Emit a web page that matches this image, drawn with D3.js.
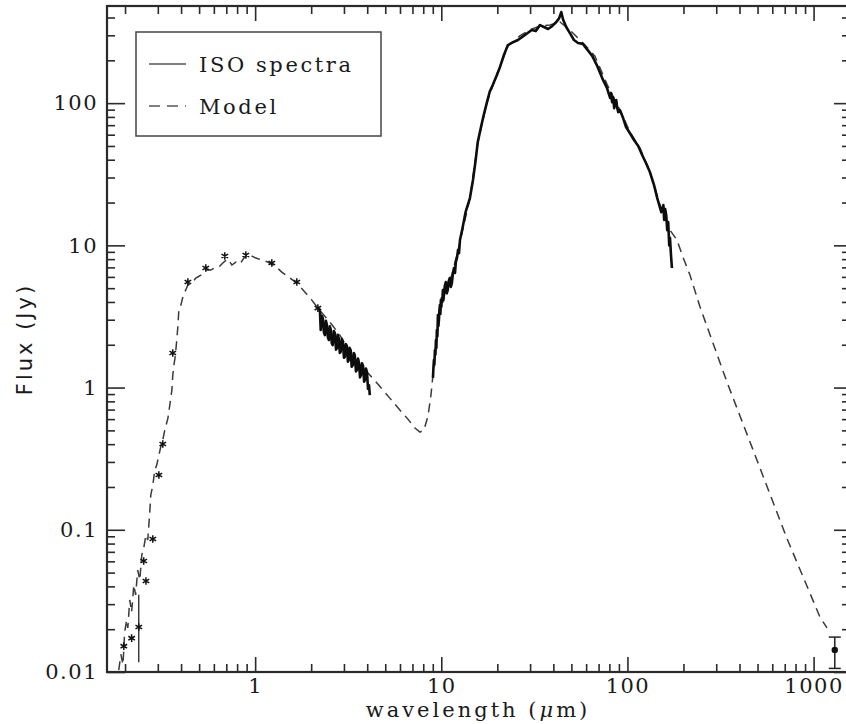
<!DOCTYPE html>
<html>
<head>
<meta charset="utf-8">
<script src="https://cdn.jsdelivr.net/npm/d3@7"></script>
<style>
  html, body { margin: 0; padding: 0; background: #fff; }
  svg { display: block; }
</style>
</head>
<body>
<div id="chart"></div>
<script>
// ---------------- DATA ----------------
// Model SED (dashed)
const modelWave = [0.185,0.190,0.195,0.199,0.204,0.207,0.212,0.217,0.223,0.228,0.234,0.240,0.246,0.252,0.259,0.265,0.272,0.275,0.282,0.289,0.296,0.304,0.311,0.319,0.327,0.340,0.348,0.357,0.361,0.366,0.371,0.375,0.380,0.385,0.389,0.399,0.409,0.419,0.435,0.457,0.480,0.511,0.543,0.578,0.615,0.646,0.679,0.713,0.750,0.788,0.828,0.870,0.914,0.960,1.009,1.086,1.17,1.28,1.391,1.536,1.674,1.848,2.017,2.173,2.519,2.851,3.226,3.65,4.13,4.56,5.29,5.99,6.62,7.22,7.68,8.07,8.48,8.80,9.02,9.24,9.47,9.83,10.45,11.4,12.59,14.25,15.73,17.59,19.9,22.8,26.4,29.9,33.9,38.4,43.4,49.1,59.1,66.9,77.6,91.2,103.2,116.8,132.1,149.6,169.3,184.5,198.7,216.7,245.3,342,496,719,1083,1181];
const modelFlux = [0.0103,0.0133,0.0113,0.0190,0.0232,0.0204,0.0321,0.0264,0.0409,0.0348,0.0521,0.0443,0.0664,0.0744,0.0918,0.0847,0.138,0.175,0.206,0.263,0.285,0.335,0.382,0.428,0.502,0.610,0.754,0.960,1.224,1.44,1.61,1.83,2.23,2.75,3.51,3.80,4.33,4.70,5.26,5.43,5.89,6.18,6.70,6.70,7.03,7.15,7.63,8.01,7.27,7.63,7.39,8.14,8.69,8.41,8.14,7.88,7.63,7.15,6.49,5.89,5.43,4.70,4.12,3.62,2.89,2.34,1.79,1.45,1.224,1.059,0.843,0.695,0.600,0.519,0.486,0.502,0.630,0.885,1.224,1.69,2.34,3.51,4.85,6.18,10.55,21.5,53.2,101.6,160,252,297,327,349,354,372,327,256,214,136,89.3,62.6,48.3,32.8,19.2,12.8,10.9,8.27,6.20,3.70,1.10,0.310,0.087,0.0243,0.0204];

// ISO spectra (solid) : near-IR segment
const isoNirWave = [2.20,2.23,2.25,2.28,2.31,2.34,2.37,2.40,2.43,2.46,2.49,2.52,2.55,2.58,2.61,2.65,2.68,2.72,2.75,2.78,2.81,2.85,2.88,2.92,2.96,3.00,3.03,3.07,3.11,3.15,3.18,3.22,3.26,3.30,3.35,3.39,3.43,3.48,3.52,3.57,3.61,3.66,3.70,3.75,3.80,3.85,3.89,3.94,3.99,4.04,4.09,4.13];
const isoNirFlux = [3.60,3.40,2.54,3.20,3.08,2.45,2.34,2.95,2.75,2.25,2.16,2.70,2.54,2.05,1.99,2.50,2.42,1.85,1.90,2.35,2.23,1.75,1.78,2.20,2.09,1.62,1.64,2.02,1.96,1.52,1.56,1.90,1.83,1.40,1.44,1.75,1.69,1.30,1.33,1.60,1.50,1.18,1.22,1.48,1.42,1.10,1.13,1.36,1.28,0.98,1.04,0.885];

// ISO spectra (solid) : mid/far-IR segment
const isoFirWave = [9.02,9.08,9.13,9.18,9.24,9.30,9.36,9.41,9.47,9.53,9.59,9.65,9.71,9.77,9.83,9.89,9.95,10.01,10.07,10.13,10.2,10.26,10.33,10.45,10.58,10.70,10.83,10.96,11.1,11.25,11.4,11.55,11.7,11.85,11.97,12.15,12.3,12.45,12.6,13.0,13.5,14.25,14.8,15.3,15.7,16.3,16.9,17.6,18.2,18.9,19.9,20.6,21.7,22.8,23.9,25.8,27.7,29.1,30.6,32.2,33.9,35.6,37.5,39.5,41.5,43.0,44.1,45.2,46.9,49.1,51.6,54.3,57.6,61.2,64.8,68.9,73.2,77.6,80.7,81.7,82.7,83.8,84.9,86.0,87.1,88.2,89.3,91.2,94.8,98.3,103,108.5,114.3,120,126.5,132,139,144.6,148.3,152,156,157.5,159.5,161.6,163.6,165.6,167.7,169.3,171.4,173.4];
const isoFirFlux = [1.17,1.40,1.56,1.45,1.83,1.70,2.16,1.90,2.54,2.30,3.24,2.70,2.98,3.50,3.80,3.30,4.12,3.70,4.26,4.00,4.85,4.10,4.47,5.20,5.52,4.60,4.85,5.60,5.89,5.10,5.43,6.40,6.93,6.40,7.63,8.20,9.27,8.80,10.9,13.2,17.1,21.5,28.8,39.8,53.2,66.8,82.4,101.6,120,134,158,177,218,256,265,278,297,311,327,321,354,343,332,349,372,396,437,384,343,311,278,265,261,236,214,182,150,128,109,118,101.6,110,92.3,104,105,92,86.5,89.3,78.5,67.9,61.6,55.1,49.9,43.2,37.3,32.8,26.5,21.5,19.2,17.1,19.2,15.1,18.0,16.3,12.8,14.6,10.0,11.3,8.55,6.93];

// Photometry (asterisks)
const photWave = [0.197,0.217,0.237,0.252,0.259,0.282,0.304,0.319,0.361,0.435,0.543,0.687,0.891,1.229,1.674,2.173];
const photFlux = [0.0152,0.0173,0.0207,0.0603,0.0436,0.0861,0.243,0.401,1.75,5.52,6.93,8.41,8.55,7.51,5.52,3.62];
const photErrLo = [null,null,0.0117,null,null,null,null,null,null,null,null,null,null,null,null,null];
const photErrHi = [null,null,0.035,null,null,null,null,null,null,null,null,null,null,null,null,null];

// 1.3 mm continuum point with error bar
const mmWave = [1300];
const mmFlux = [0.0143];
const mmLo = [0.0106];
const mmHi = [0.0176];

// Axis ticks
const xTickValues = [1, 10, 100, 1000];
const yTickValues = [0.01, 0.1, 1, 10, 100];
const legendLabels = ["ISO spectra", "Model"];
const xTitle = "wavelength (";
const xTitleMu = "\u03BC";
const xTitleEnd = "m)";
const yTitle = "Flux (Jy)";

// ---------------- LAYOUT ----------------
const W = 846, H = 724;
const plot = { left: 107, right: 849, top: 6, bottom: 672 };

const svg = d3.select("#chart").append("svg")
  .attr("width", W).attr("height", H)
  .attr("viewBox", `0 0 ${W} ${H}`);

const x = d3.scaleLog().domain([0.16, 1550]).range([plot.left, plot.right]);
const y = d3.scaleLog().domain([0.01, 482]).range([plot.bottom, plot.top]);

function minors(lo, hi) {
  const out = [];
  for (let e = -2; e <= 4; e++) {
    for (let m = 2; m <= 9; m++) {
      const v = m * Math.pow(10, e);
      if (v > lo && v < hi) out.push(v);
    }
  }
  return out;
}
const xMinor = minors(0.16, 1550);
const yMinor = minors(0.01, 482);

const axisColor = "#2a2a2a";
const font = "'DejaVu Serif', 'Liberation Serif', serif";

function styleAxis(g) {
  g.select(".domain").remove();
  g.selectAll(".tick line").attr("stroke", axisColor).attr("stroke-width", 1.6);
  g.selectAll(".tick text").attr("fill", "#1a1a1a")
    .style("font-family", font).style("font-size", "21px")
    .style("letter-spacing", "1.5px");
}

// bottom
svg.append("g").attr("transform", `translate(0,${plot.bottom})`)
  .call(d3.axisBottom(x).tickValues(xTickValues).tickSize(-15).tickPadding(6).tickFormat(d3.format("")))
  .call(styleAxis);
svg.append("g").attr("transform", `translate(0,${plot.bottom})`)
  .call(d3.axisBottom(x).tickValues(xMinor).tickSize(-8).tickFormat(""))
  .call(styleAxis);
// top
svg.append("g").attr("transform", `translate(0,${plot.top})`)
  .call(d3.axisTop(x).tickValues(xTickValues).tickSize(-15).tickFormat(""))
  .call(styleAxis);
svg.append("g").attr("transform", `translate(0,${plot.top})`)
  .call(d3.axisTop(x).tickValues(xMinor).tickSize(-8).tickFormat(""))
  .call(styleAxis);
// left
svg.append("g").attr("transform", `translate(${plot.left},0)`)
  .call(d3.axisLeft(y).tickValues(yTickValues).tickSize(-18).tickPadding(9).tickFormat(d => String(d)))
  .call(styleAxis);
svg.append("g").attr("transform", `translate(${plot.left},0)`)
  .call(d3.axisLeft(y).tickValues(yMinor).tickSize(-8).tickFormat(""))
  .call(styleAxis);
// right
svg.append("g").attr("transform", `translate(${plot.right},0)`)
  .call(d3.axisRight(y).tickValues(yTickValues).tickSize(-15).tickFormat(""))
  .call(styleAxis);
svg.append("g").attr("transform", `translate(${plot.right},0)`)
  .call(d3.axisRight(y).tickValues(yMinor).tickSize(-7).tickFormat(""))
  .call(styleAxis);

// frame
svg.append("rect")
  .attr("x", plot.left).attr("y", plot.top)
  .attr("width", plot.right - plot.left).attr("height", plot.bottom - plot.top)
  .attr("fill", "none").attr("stroke", axisColor).attr("stroke-width", 2.2);

// clip
svg.append("clipPath").attr("id", "clip")
  .append("rect").attr("x", plot.left).attr("y", plot.top)
  .attr("width", plot.right - plot.left).attr("height", plot.bottom - plot.top);

const gData = svg.append("g").attr("clip-path", "url(#clip)");

const line = d3.line().x(d => x(d[0])).y(d => y(d[1]));

// model
gData.append("path")
  .datum(d3.zip(modelWave, modelFlux))
  .attr("d", line)
  .attr("fill", "none").attr("stroke", "#3a3a3a").attr("stroke-width", 1.5)
  .attr("stroke-dasharray", "9,6");

// ISO spectra
[[isoNirWave, isoNirFlux], [isoFirWave, isoFirFlux]].forEach(([w, f]) => {
  gData.append("path")
    .datum(d3.zip(w, f))
    .attr("d", line)
    .attr("fill", "none").attr("stroke", "#0d0d0d").attr("stroke-width", 2.6)
    .attr("stroke-linejoin", "round");
});

// photometry error bars
photWave.forEach((w, i) => {
  if (photErrLo[i] != null) {
    gData.append("line")
      .attr("x1", x(w)).attr("x2", x(w))
      .attr("y1", y(photErrLo[i])).attr("y2", y(photErrHi[i]))
      .attr("stroke", "#222").attr("stroke-width", 1.3);
  }
});
// photometry asterisks
const star = d3.symbol().type(d3.symbolAsterisk).size(40);
gData.selectAll(".phot").data(d3.zip(photWave, photFlux)).join("path")
  .attr("class", "phot")
  .attr("transform", d => `translate(${x(d[0])},${y(d[1])})`)
  .attr("d", star)
  .attr("fill", "none").attr("stroke", "#111").attr("stroke-width", 1.5);

// 1.3 mm point
mmWave.forEach((w, i) => {
  const cx = x(w);
  gData.append("line").attr("x1", cx).attr("x2", cx)
    .attr("y1", y(mmLo[i])).attr("y2", y(mmHi[i]))
    .attr("stroke", "#222").attr("stroke-width", 1.5);
  [mmLo[i], mmHi[i]].forEach(v => {
    gData.append("line").attr("x1", cx - 6).attr("x2", cx + 6)
      .attr("y1", y(v)).attr("y2", y(v))
      .attr("stroke", "#222").attr("stroke-width", 1.5);
  });
  gData.append("circle").attr("cx", cx).attr("cy", y(mmFlux[i])).attr("r", 3.2).attr("fill", "#111");
});

// legend
const lg = svg.append("g");
lg.append("rect").attr("x", 136).attr("y", 32).attr("width", 245).attr("height", 104)
  .attr("fill", "#fff").attr("stroke", "#444").attr("stroke-width", 1.5);
const legendItems = [
  { label: legendLabels[0], dash: null, yy: 64 },
  { label: legendLabels[1], dash: "11,7", yy: 106 }
];
legendItems.forEach(it => {
  lg.append("line").attr("x1", 149).attr("x2", 186).attr("y1", it.yy).attr("y2", it.yy)
    .attr("stroke", "#555").attr("stroke-width", 1.6)
    .attr("stroke-dasharray", it.dash);
  lg.append("text").attr("x", 199).attr("y", it.yy + 8)
    .text(it.label)
    .style("font-family", font).style("font-size", "21px")
    .style("letter-spacing", "2.6px").attr("fill", "#1a1a1a");
});

// axis titles
const xt = svg.append("text")
  .attr("x", (plot.left + plot.right) / 2).attr("y", 717)
  .attr("text-anchor", "middle")
  .style("font-family", font).style("font-size", "21px")
  .style("letter-spacing", "3px").attr("fill", "#1a1a1a");
xt.append("tspan").text(xTitle);
xt.append("tspan").text(xTitleMu).style("font-style", "italic");
xt.append("tspan").text(xTitleEnd);

svg.append("text")
  .attr("transform", `translate(32,${(plot.top + plot.bottom) / 2}) rotate(-90)`)
  .attr("text-anchor", "middle")
  .style("font-family", "'DejaVu Sans', sans-serif").style("font-size", "21px")
  .style("letter-spacing", "3px")
  .attr("fill", "#1a1a1a")
  .text(yTitle);
</script>
</body>
</html>
